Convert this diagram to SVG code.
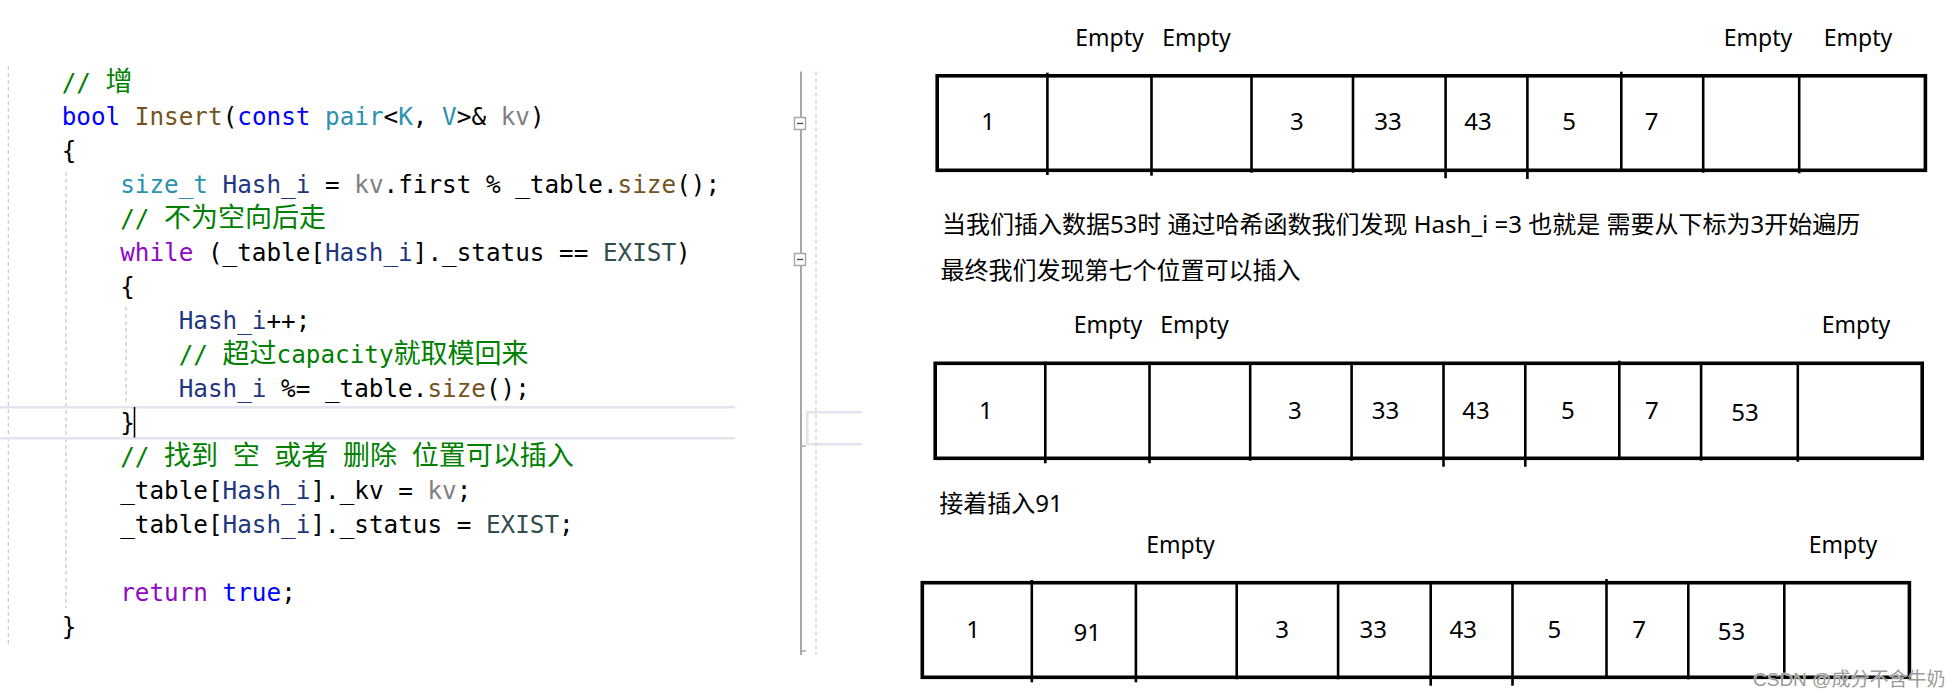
<svg xmlns="http://www.w3.org/2000/svg" width="1960" height="699" viewBox="0 0 1960 699">
<style>
.code{font-family:"DejaVu Sans Mono","Liberation Mono","Noto Sans CJK SC",monospace;font-size:24.3px;fill:#000}
.cjk{font-family:"Noto Sans CJK SC",sans-serif;font-size:27px}
.cm{fill:#008000}
.kw{fill:#0000ff}
.fn{fill:#74531f}
.ty{fill:#2b91af}
.pa{fill:#808080}
.lv{fill:#1f377f}
.ct{fill:#8f08c4}
.en{fill:#2f4f4f}
.guide{stroke:#c8c8c8;stroke-width:1.2;stroke-dasharray:4 3;fill:none}
.hl{stroke:#e4e4ee;stroke-width:2.6;fill:none}
.fold{stroke:#a8a8a8;stroke-width:1.5;fill:#fff}
.lbl{font-family:"Noto Sans","Noto Sans CJK SC",sans-serif;font-size:24px;fill:#000}
.empty{font-family:"Noto Sans",sans-serif;font-size:23px;fill:#000;text-anchor:middle}
.num{font-family:"Noto Sans",sans-serif;font-size:24px;fill:#000;text-anchor:middle}
.outer{fill:none;stroke:#000;stroke-width:3.6}
.div{stroke:#000;stroke-width:2.6}
.wm{font-family:"Liberation Sans","Noto Sans CJK SC",sans-serif;font-size:19px;fill:#9a9a9a;stroke:#ffffff;stroke-width:0.6;paint-order:stroke}
</style>
<rect width="1960" height="699" fill="#fff"/>

<g id="editor">
  <line class="guide" x1="8.3" y1="66" x2="8.3" y2="647"/>
  <line class="guide" x1="66" y1="172" x2="66" y2="608"/>
  <line class="guide" x1="126" y1="307" x2="126" y2="403"/>
  <line class="hl" x1="0" y1="407.3" x2="735" y2="407.3"/>
  <line class="hl" x1="0" y1="438.3" x2="735" y2="438.3"/>
  <path class="hl" d="M862 412.3 H807.3 V444.3 H862"/>
  <line x1="801" y1="71.5" x2="801" y2="655" stroke="#a8a8a8" stroke-width="2"/>
  <line x1="801" y1="446" x2="806" y2="446" stroke="#a8a8a8" stroke-width="1.5"/>
  <line x1="801" y1="651" x2="806" y2="651" stroke="#a8a8a8" stroke-width="1.5"/>
  <line class="guide" x1="816" y1="71.5" x2="816" y2="655"/>
  <rect class="fold" x="794.5" y="117.5" width="11" height="12"/>
  <line x1="797" y1="123.5" x2="803.2" y2="123.5" stroke="#444" stroke-width="1.3"/>
  <rect class="fold" x="794.5" y="253.5" width="11" height="12"/>
  <line x1="797" y1="259.5" x2="803.2" y2="259.5" stroke="#444" stroke-width="1.3"/>
  <line x1="134.5" y1="407" x2="134.5" y2="437.5" stroke="#000" stroke-width="1.6"/>

  <g xml:space="preserve">
  <text class="code" x="61.7" y="91"><tspan class="cm">// <tspan class="cjk">增</tspan></tspan></text>
  <text class="code" x="61.7" y="125"><tspan class="kw">bool</tspan> <tspan class="fn">Insert</tspan>(<tspan class="kw">const</tspan> <tspan class="ty">pair</tspan>&lt;<tspan class="ty">K</tspan>, <tspan class="ty">V</tspan>&gt;&amp; <tspan class="pa">kv</tspan>)</text>
  <text class="code" x="61.7" y="159">{</text>
  <text class="code" x="120.2" y="193"><tspan class="ty">size_t</tspan> <tspan class="lv">Hash_i</tspan> = <tspan class="pa">kv</tspan>.first % _table.<tspan class="fn">size</tspan>();</text>
  <text class="code" x="120.2" y="227"><tspan class="cm">// <tspan class="cjk">不为空向后走</tspan></tspan></text>
  <text class="code" x="120.2" y="261"><tspan class="ct">while</tspan> (_table[<tspan class="lv">Hash_i</tspan>]._status == <tspan class="en">EXIST</tspan>)</text>
  <text class="code" x="120.2" y="295">{</text>
  <text class="code" x="178.7" y="329"><tspan class="lv">Hash_i</tspan>++;</text>
  <text class="code" x="178.7" y="363"><tspan class="cm">// <tspan class="cjk">超过</tspan>capacity<tspan class="cjk">就取模回来</tspan></tspan></text>
  <text class="code" x="178.7" y="397"><tspan class="lv">Hash_i</tspan> %= _table.<tspan class="fn">size</tspan>();</text>
  <text class="code" x="120.2" y="431">}</text>
  <text class="code" x="120.2" y="465"><tspan class="cm">// <tspan class="cjk">找到</tspan> <tspan class="cjk">空</tspan> <tspan class="cjk">或者</tspan> <tspan class="cjk">删除</tspan> <tspan class="cjk">位置可以插入</tspan></tspan></text>
  <text class="code" x="120.2" y="499">_table[<tspan class="lv">Hash_i</tspan>]._kv = <tspan class="pa">kv</tspan>;</text>
  <text class="code" x="120.2" y="533">_table[<tspan class="lv">Hash_i</tspan>]._status = <tspan class="en">EXIST</tspan>;</text>
  <text class="code" x="120.2" y="601"><tspan class="ct">return</tspan> <tspan class="kw">true</tspan>;</text>
  <text class="code" x="61.7" y="635">}</text>
  </g>
</g>

<g id="table1">
  <text class="empty" x="1109.5" y="45.7">Empty</text>
  <text class="empty" x="1196.5" y="45.7">Empty</text>
  <text class="empty" x="1758" y="45.7">Empty</text>
  <text class="empty" x="1858" y="45.7">Empty</text>
  <rect class="outer" x="937.2" y="75.8" width="988.2" height="94.5"/>
  <line class="div" x1="1047.4" y1="72.7" x2="1047.4" y2="175"/>
  <line class="div" x1="1151.5" y1="76" x2="1151.5" y2="175.7"/>
  <line class="div" x1="1251.5" y1="76" x2="1251.5" y2="172.7"/>
  <line class="div" x1="1353" y1="76" x2="1353" y2="172.7"/>
  <line class="div" x1="1445.6" y1="76" x2="1445.6" y2="178.3"/>
  <line class="div" x1="1527.4" y1="76" x2="1527.4" y2="179"/>
  <line class="div" x1="1621.3" y1="71.7" x2="1621.3" y2="170"/>
  <line class="div" x1="1703.2" y1="76" x2="1703.2" y2="172.7"/>
  <line class="div" x1="1799.2" y1="76" x2="1799.2" y2="173.3"/>
  <text class="num" x="988" y="130">1</text>
  <text class="num" x="1296.8" y="130">3</text>
  <text class="num" x="1388" y="130">33</text>
  <text class="num" x="1478" y="130">43</text>
  <text class="num" x="1569" y="130">5</text>
  <text class="num" x="1651.7" y="130">7</text>
</g>

<g id="note1">
  <text class="lbl" x="941.9" y="233">当我们插入数据53时 通过哈希函数我们发现 Hash_i =3 也就是 需要从下标为3开始遍历</text>
  <text class="lbl" x="940.6" y="279">最终我们发现第七个位置可以插入</text>
</g>

<g id="table2">
  <text class="empty" x="1108" y="333.3">Empty</text>
  <text class="empty" x="1194.5" y="333.3">Empty</text>
  <text class="empty" x="1856" y="333.3">Empty</text>
  <rect class="outer" x="935.2" y="363.3" width="987" height="95"/>
  <line class="div" x1="1045.3" y1="361.7" x2="1045.3" y2="463.3"/>
  <line class="div" x1="1149.5" y1="363" x2="1149.5" y2="463.3"/>
  <line class="div" x1="1250.2" y1="363" x2="1250.2" y2="460.7"/>
  <line class="div" x1="1351.6" y1="363" x2="1351.6" y2="460.7"/>
  <line class="div" x1="1443.5" y1="363" x2="1443.5" y2="466.7"/>
  <line class="div" x1="1525.3" y1="363" x2="1525.3" y2="466.7"/>
  <line class="div" x1="1619.3" y1="360.7" x2="1619.3" y2="458"/>
  <line class="div" x1="1701.1" y1="363" x2="1701.1" y2="460.7"/>
  <line class="div" x1="1797.8" y1="363" x2="1797.8" y2="461.7"/>
  <text class="num" x="985.9" y="418.7">1</text>
  <text class="num" x="1294.8" y="418.7">3</text>
  <text class="num" x="1385.4" y="418.7">33</text>
  <text class="num" x="1476" y="418.7">43</text>
  <text class="num" x="1567.9" y="418.7">5</text>
  <text class="num" x="1651.8" y="418.7">7</text>
  <text class="num" x="1745" y="420.7">53</text>
</g>

<g id="note2">
  <text class="lbl" x="939.2" y="512">接着插入91</text>
</g>

<g id="table3">
  <text class="empty" x="1180.5" y="553.3">Empty</text>
  <text class="empty" x="1843" y="553.3">Empty</text>
  <rect class="outer" x="922.3" y="582.7" width="987.1" height="94.6"/>
  <line class="div" x1="1031.8" y1="580" x2="1031.8" y2="682.3"/>
  <line class="div" x1="1135.9" y1="582" x2="1135.9" y2="682.3"/>
  <line class="div" x1="1236.7" y1="582" x2="1236.7" y2="679.3"/>
  <line class="div" x1="1338.1" y1="582" x2="1338.1" y2="679.3"/>
  <line class="div" x1="1430.7" y1="582" x2="1430.7" y2="685.7"/>
  <line class="div" x1="1512.5" y1="582" x2="1512.5" y2="685.7"/>
  <line class="div" x1="1606.5" y1="579" x2="1606.5" y2="677"/>
  <line class="div" x1="1688.3" y1="582" x2="1688.3" y2="679.3"/>
  <line class="div" x1="1784.3" y1="582" x2="1784.3" y2="678"/>
  <text class="num" x="973" y="638.3">1</text>
  <text class="num" x="1087.3" y="641">91</text>
  <text class="num" x="1282" y="638.3">3</text>
  <text class="num" x="1373.2" y="638.3">33</text>
  <text class="num" x="1463.2" y="638.3">43</text>
  <text class="num" x="1554.4" y="638.3">5</text>
  <text class="num" x="1639" y="638.3">7</text>
  <text class="num" x="1731.5" y="640">53</text>
</g>

<g id="connectors"></g>

<text class="wm" x="1753" y="686">CSDN @成分不含牛奶</text>
</svg>
